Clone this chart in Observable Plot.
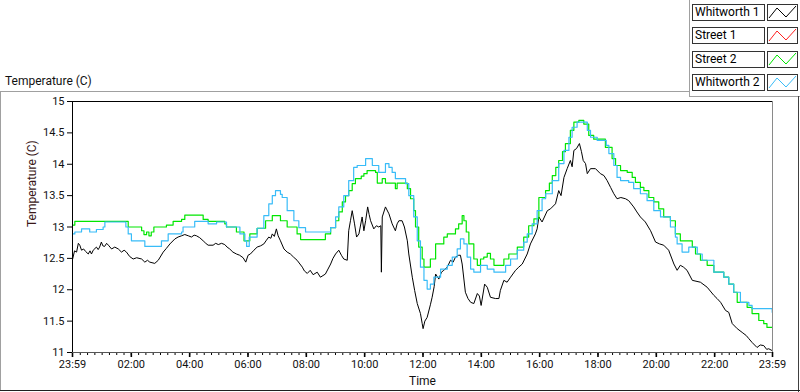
<!DOCTYPE html>
<html>
<head>
<meta charset="utf-8">
<script src="https://cdn.jsdelivr.net/npm/d3@7"></script>
<script src="https://cdn.jsdelivr.net/npm/@observablehq/plot@0.6"></script>
<style>
  html, body { margin: 0; padding: 0; background: #fff; }
  #wrap { position: relative; width: 800px; height: 392px; background: #fff; overflow: hidden; font-family: Roboto, "Liberation Sans", sans-serif; }
  .ln { position: absolute; }
  #title { position: absolute; left: 5px; top: 74px; font-size: 12px; line-height: 14px; color: #111; }
  .lg-text { position: absolute; left: 692px; width: 69px; height: 15px; border: 1px solid #333; background: #fff; font-size: 12px; line-height: 15px; padding-left: 2px; box-sizing: content-box; color: #000; white-space: nowrap; }
  .lg-icon { position: absolute; left: 767px; width: 29px; height: 15px; border: 1px solid #333; background: #fff; }
  #chart { position: absolute; left: 0; top: 92px; }
</style>
</head>
<body>
<div id="wrap">
  <div id="title">Temperature (C)</div>
  <div class="ln" style="left:0;top:91px;width:689px;height:1px;background:#a0a0a0"></div>
  <div class="ln" style="left:0;top:91px;width:1px;height:300px;background:#a0a0a0"></div>
  <div class="ln" style="left:689px;top:0;width:1px;height:97px;background:#a0a0a0"></div>
  <div class="ln" style="left:689px;top:96px;width:111px;height:1px;background:#a0a0a0"></div>
  <div class="ln" style="left:798px;top:96px;width:1px;height:296px;background:#404040"></div>
  <div class="ln" style="left:0;top:390px;width:800px;height:1px;background:#202020"></div>
  <div id="legend"></div>
  <div id="chart"></div>
</div>
<script>
// ---- data (elapsed hours since 23:59, temperature °C) ----
const seriesNames = ["Whitworth 1", "Street 1", "Street 2", "Whitworth 2"];
const seriesColors = ["#000000", "#ff2020", "#00e600", "#38bcf8"];

const whitworth1 = [[0.00,12.48],[0.07,12.62],[0.14,12.60],[0.20,12.74],[0.25,12.71],[0.31,12.63],[0.38,12.65],[0.45,12.61],[0.54,12.57],[0.60,12.62],[0.65,12.57],[0.71,12.63],[0.82,12.68],[0.88,12.64],[0.93,12.68],[0.99,12.76],[1.04,12.70],[1.10,12.69],[1.17,12.74],[1.23,12.71],[1.34,12.65],[1.45,12.68],[1.57,12.65],[1.68,12.60],[1.77,12.63],[1.85,12.60],[1.96,12.53],[2.08,12.49],[2.20,12.51],[2.37,12.49],[2.48,12.44],[2.57,12.47],[2.65,12.44],[2.82,12.42],[2.94,12.47],[3.11,12.60],[3.22,12.66],[3.34,12.73],[3.51,12.81],[3.62,12.84],[3.74,12.86],[3.85,12.88],[3.97,12.86],[4.08,12.84],[4.17,12.87],[4.25,12.86],[4.36,12.83],[4.48,12.78],[4.57,12.74],[4.65,12.71],[4.82,12.71],[4.91,12.74],[5.00,12.72],[5.11,12.74],[5.22,12.72],[5.30,12.68],[5.39,12.65],[5.50,12.60],[5.62,12.57],[5.73,12.55],[5.85,12.51],[5.94,12.44],[6.02,12.55],[6.10,12.57],[6.22,12.63],[6.33,12.68],[6.45,12.70],[6.56,12.73],[6.65,12.79],[6.73,12.84],[6.80,12.82],[6.85,12.89],[6.92,12.85],[6.99,12.97],[7.05,12.86],[7.13,12.78],[7.25,12.65],[7.36,12.60],[7.47,12.57],[7.58,12.52],[7.70,12.47],[7.88,12.36],[7.95,12.30],[8.05,12.26],[8.15,12.31],[8.25,12.24],[8.39,12.28],[8.50,12.20],[8.67,12.25],[8.76,12.33],[8.85,12.41],[8.93,12.50],[9.02,12.57],[9.13,12.63],[9.22,12.55],[9.30,12.49],[9.42,12.47],[9.47,12.94],[9.53,13.10],[9.59,13.26],[9.67,13.05],[9.74,12.84],[9.82,12.89],[9.93,13.16],[9.99,12.94],[10.05,13.10],[10.12,13.32],[10.17,13.20],[10.22,13.10],[10.33,12.97],[10.42,13.02],[10.50,13.00],[10.57,13.02],[10.59,12.28],[10.62,13.16],[10.73,13.32],[10.85,13.21],[10.96,13.05],[11.07,12.94],[11.13,13.05],[11.19,13.10],[11.30,13.10],[11.38,13.00],[11.48,12.78],[11.53,12.57],[11.65,12.20],[11.73,11.99],[11.82,11.78],[11.93,11.62],[11.99,11.46],[12.02,11.38],[12.08,11.50],[12.16,11.56],[12.27,11.76],[12.33,11.88],[12.40,12.05],[12.45,12.25],[12.56,12.17],[12.65,12.28],[12.73,12.31],[12.85,12.36],[12.96,12.47],[13.05,12.44],[13.13,12.52],[13.24,12.55],[13.30,12.55],[13.36,12.41],[13.47,11.96],[13.56,11.86],[13.65,11.80],[13.76,11.78],[13.88,11.94],[13.95,11.90],[14.01,11.75],[14.13,12.09],[14.22,12.04],[14.33,11.88],[14.50,11.86],[14.62,11.86],[14.67,11.99],[14.79,12.15],[14.90,12.12],[15.02,12.20],[15.19,12.31],[15.30,12.36],[15.42,12.41],[15.59,12.57],[15.70,12.73],[15.87,12.89],[15.93,12.97],[15.99,13.16],[16.10,13.08],[16.28,13.26],[16.39,13.29],[16.56,13.37],[16.67,13.58],[16.75,13.50],[16.85,13.79],[16.96,13.93],[17.07,14.06],[17.13,13.96],[17.19,14.22],[17.28,14.25],[17.38,14.33],[17.45,14.20],[17.51,14.06],[17.59,14.01],[17.65,13.85],[17.76,13.93],[17.93,13.93],[18.10,13.85],[18.22,13.82],[18.33,13.74],[18.45,13.63],[18.56,13.53],[18.67,13.45],[18.80,13.47],[18.96,13.45],[19.07,13.42],[19.24,13.32],[19.35,13.24],[19.47,13.16],[19.64,13.08],[19.82,12.94],[19.99,12.76],[20.13,12.73],[20.27,12.71],[20.44,12.63],[20.62,12.41],[20.73,12.31],[20.84,12.39],[20.95,12.36],[21.07,12.31],[21.25,12.15],[21.53,12.12],[21.76,12.04],[21.99,11.91],[22.10,11.86],[22.22,11.80],[22.39,11.67],[22.50,11.64],[22.62,11.46],[22.79,11.38],[22.96,11.32],[23.10,11.27],[23.19,11.22],[23.30,11.16],[23.47,11.08],[23.58,11.12],[23.70,11.11],[23.80,11.05],[23.87,11.06],[23.99,11.03]];

const street1 = [];

const street2 = [[0.00,13.03],[0.08,13.09],[1.91,13.00],[2.37,12.94],[2.45,12.88],[2.54,12.92],[2.62,12.86],[2.70,12.92],[2.79,13.00],[3.22,13.03],[3.45,13.09],[3.74,13.12],[3.85,13.19],[4.48,13.12],[4.65,13.09],[5.22,13.05],[5.28,13.00],[5.62,12.92],[5.88,12.78],[6.08,12.89],[6.33,12.98],[6.62,13.10],[6.85,13.18],[7.13,13.10],[7.36,13.00],[7.70,12.89],[7.82,12.80],[8.67,12.89],[8.85,12.99],[9.02,13.10],[9.13,13.24],[9.25,13.40],[9.36,13.50],[9.47,13.58],[9.59,13.69],[9.70,13.77],[9.90,13.81],[9.99,13.85],[10.10,13.90],[10.39,13.87],[10.45,13.70],[10.62,13.77],[10.73,13.70],[11.07,13.61],[11.13,13.70],[11.48,13.61],[11.59,13.45],[11.70,13.26],[11.76,13.00],[11.87,12.68],[11.99,12.49],[12.05,12.36],[12.27,12.49],[12.45,12.73],[12.73,12.84],[12.85,12.89],[13.13,12.97],[13.24,13.05],[13.36,13.18],[13.42,13.10],[13.50,12.92],[13.59,12.73],[13.76,12.49],[13.88,12.39],[13.99,12.49],[14.10,12.52],[14.22,12.58],[14.33,12.49],[14.45,12.39],[14.79,12.49],[14.96,12.57],[15.25,12.68],[15.47,12.84],[15.64,13.02],[15.82,13.13],[15.99,13.47],[16.22,13.58],[16.35,13.70],[16.45,13.82],[16.57,13.95],[16.67,14.06],[16.80,14.20],[16.90,14.33],[17.07,14.54],[17.19,14.67],[17.36,14.70],[17.53,14.64],[17.70,14.46],[17.87,14.40],[18.27,14.27],[18.50,14.09],[18.62,13.98],[18.79,13.90],[19.02,13.87],[19.19,13.79],[19.30,13.71],[19.47,13.63],[19.59,13.58],[19.76,13.47],[19.93,13.40],[20.10,13.29],[20.27,13.16],[20.50,13.10],[20.67,12.89],[20.84,12.78],[21.25,12.68],[21.36,12.57],[21.53,12.47],[21.76,12.39],[21.99,12.28],[22.33,12.20],[22.50,12.09],[22.67,11.96],[22.79,11.80],[23.13,11.72],[23.30,11.62],[23.53,11.51],[23.70,11.46],[23.81,11.40],[24.00,11.40]];

const whitworth2 = [[0.00,12.89],[0.08,12.92],[0.31,12.97],[0.59,12.92],[0.82,12.96],[1.05,13.00],[1.11,13.08],[1.83,13.00],[1.91,12.89],[2.02,12.78],[2.48,12.69],[3.05,12.78],[3.28,12.89],[3.74,12.92],[3.79,13.00],[4.19,13.09],[4.65,13.05],[4.94,13.08],[5.28,13.00],[5.74,12.89],[5.91,12.78],[5.97,12.69],[6.06,12.84],[6.33,12.98],[6.56,13.18],[6.73,13.37],[6.85,13.50],[6.96,13.58],[7.13,13.52],[7.19,13.47],[7.36,13.26],[7.59,13.10],[7.76,12.99],[7.99,12.92],[8.85,12.99],[9.02,13.16],[9.13,13.32],[9.30,13.50],[9.47,13.74],[9.64,13.95],[9.76,13.98],[10.05,14.09],[10.28,13.98],[10.50,13.87],[10.73,14.01],[10.85,13.95],[10.96,13.87],[11.07,13.77],[11.42,13.69],[11.53,13.50],[11.70,13.16],[11.82,12.78],[11.93,12.36],[12.05,12.15],[12.16,12.01],[12.27,12.09],[12.39,12.20],[12.62,12.33],[12.85,12.39],[13.02,12.52],[13.19,12.65],[13.30,12.81],[13.42,12.73],[13.53,12.52],[13.65,12.33],[13.76,12.28],[13.99,12.39],[14.22,12.33],[14.45,12.28],[14.85,12.39],[15.02,12.49],[15.25,12.63],[15.47,12.76],[15.59,12.89],[15.76,13.05],[15.93,13.26],[16.10,13.45],[16.22,13.53],[16.45,13.74],[16.67,14.01],[16.85,14.22],[17.02,14.43],[17.13,14.59],[17.30,14.67],[17.65,14.54],[17.76,14.43],[17.99,14.38],[18.30,14.30],[18.39,14.17],[18.56,13.98],[18.67,13.79],[18.79,13.74],[19.07,13.71],[19.24,13.61],[19.47,13.53],[19.70,13.42],[19.93,13.26],[20.16,13.16],[20.50,13.00],[20.67,12.84],[20.73,12.73],[20.90,12.60],[21.13,12.68],[21.42,12.57],[21.59,12.47],[21.99,12.28],[22.33,12.20],[22.50,12.09],[22.67,11.96],[22.90,11.80],[23.19,11.75],[23.30,11.70],[23.99,11.64],[24.00,11.64]];

const yTicks = [11, 11.5, 12, 12.5, 13, 13.5, 14, 14.5, 15];
const xTickLabels = ["23:59","02:00","04:00","06:00","08:00","10:00","12:00","14:00","16:00","18:00","20:00","22:00","23:59"];

// ---- derived ticks ----
const START_MIN = 23 * 60 + 59;
function elapsedHours(label, i, n) {
  if (i === 0) return 0;
  if (i === n - 1) return 24;
  const [hh, mm] = label.split(":").map(Number);
  return (((hh * 60 + mm - START_MIN) + 1440) % 1440) / 60;
}
const majorTicks = xTickLabels.map((l, i) => elapsedHours(l, i, xTickLabels.length));
const minorTicks = d3.range(0, 96).map(k => (((k * 15 - START_MIN) + 1440) % 1440) / 60).filter(h => h > 0.05 && h < 24);

const toRows = arr => arr.map(([h, t]) => ({h, t}));

// ---- legend ----
const legend = document.getElementById("legend");
seriesNames.forEach((name, i) => {
  const top = 4 + i * 23.33;
  const t = document.createElement("div");
  t.className = "lg-text";
  t.style.top = top + "px";
  t.textContent = name;
  legend.appendChild(t);
  const ic = document.createElement("div");
  ic.className = "lg-icon";
  ic.style.top = top + "px";
  ic.innerHTML = `<svg width="29" height="15" style="display:block"><polyline points="1,13 9,3 18,12 28,1" fill="none" stroke="${seriesColors[i]}" stroke-width="1"/></svg>`;
  legend.appendChild(ic);
});

// ---- chart ----
const lineData = [whitworth1, street1, street2, whitworth2];
const drawOrder = [0, 1, 2, 3];

const chart = Plot.plot({
  width: 800,
  height: 300,
  marginTop: 9,
  marginBottom: 40,
  marginLeft: 72,
  marginRight: 28,
  x: {type: "linear", domain: [0, 24], axis: null},
  y: {type: "linear", domain: [11, 15], axis: null},
  style: {fontFamily: "Roboto, 'Liberation Sans', sans-serif", fontSize: "11px", color: "#111", background: "transparent"},
  marks: [
    Plot.axisY({ticks: yTicks, tickSize: 5, tickPadding: 3, tickFormat: d => String(d), label: null, stroke: "#000"}),
    Plot.axisX({ticks: minorTicks, tickSize: 3, tickPadding: 0, tickFormat: () => "", label: null, stroke: "#000"}),
    Plot.axisX({ticks: majorTicks, tickSize: 5, tickPadding: 3, strokeWidth: 1.6,
      tickFormat: d => xTickLabels[majorTicks.indexOf(d)], label: null, stroke: "#000"}),
    Plot.text(["Temperature (C)"], {text: d => d, frameAnchor: "left", dx: -40, rotate: -90, fill: "#3a1818", fontSize: 12}),
    Plot.text(["Time"], {text: d => d, frameAnchor: "bottom", dy: 32, fill: "#111", fontSize: 12}),
    ...drawOrder.map(i => Plot.line(toRows(lineData[i]), {
      x: "h", y: "t",
      stroke: seriesColors[i],
      strokeWidth: i === 0 ? 1 : 1.2,
      curve: i === 0 ? "linear" : "step-after"
    })),
    Plot.ruleY([15], {stroke: "#000"}),
    Plot.ruleY([11], {stroke: "#555"}),
    Plot.ruleX([0], {stroke: "#000"}),
    Plot.ruleX([24], {stroke: "#8a8a8a"})
  ]
});
document.getElementById("chart").appendChild(chart);
</script>
</body>
</html>
